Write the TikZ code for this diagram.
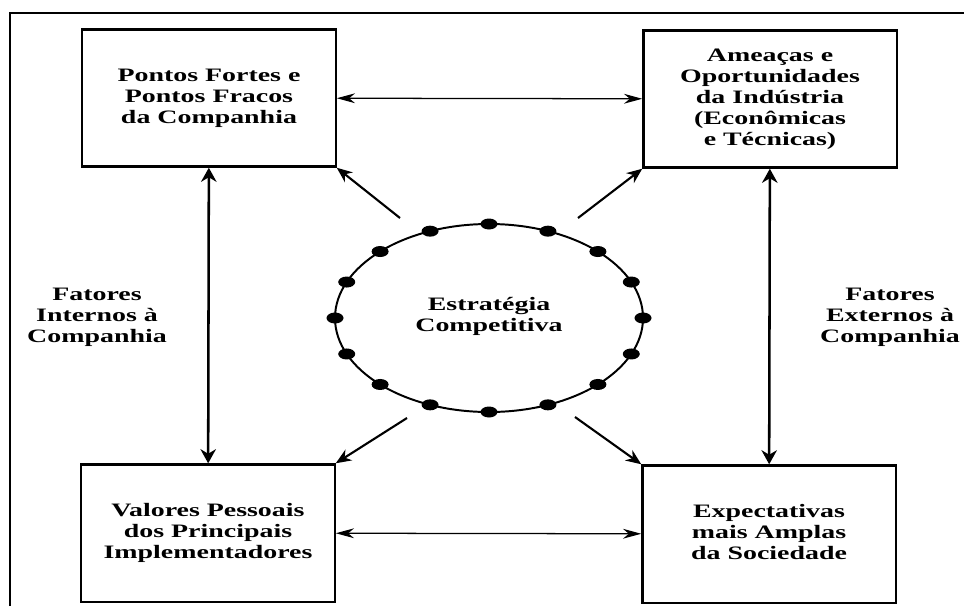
\documentclass[tikz,border=0pt]{standalone}
\usepackage{fontspec}
\setmainfont{Liberation Serif}
\usepackage{graphicx}
\usepackage{tikz}
\usetikzlibrary{arrows.meta}

\newcommand{\largo}[1]{\scalebox{1.47}[1]{\begin{tabular}{@{}c@{}}#1\end{tabular}}}

\begin{document}
\begin{tikzpicture}[x=0.025cm, y=-0.025cm,
  texto/.style={font=\fontsize{13.5}{15}\selectfont\bfseries, inner sep=0pt},
  caixa/.style={texto, draw, line width=1.6pt, minimum width=6.33cm, minimum height=3.43cm},
  seta/.style={-{Stealth[length=11pt, width=9pt]}, line width=1.5pt},
  vertical/.style={{Stealth[length=10pt, width=11pt]}-{Stealth[length=10pt, width=11pt]}, line width=1.8pt},
  horizontal/.style={{Stealth[length=13pt, width=7pt]}-{Stealth[length=13pt, width=7pt]}, line width=0.9pt}]
  \useasboundingbox (0,0) rectangle (964,606);

  % moldura
  \draw[line width=1.2pt] (10,606) -- (10,13) -- (964,13);

  % caixas
  \node[caixa] (forcas) at (209,98) {\largo{Pontos Fortes e\\Pontos Fracos\\da Companhia}};
  \node[caixa] (ameacas) at (770,99) {\largo{Ameaças e\\Oportunidades\\da Indústria\\(Econômicas\\e Técnicas)}};
  \node[caixa] (valores) at (208,533) {\largo{Valores Pessoais\\dos Principais\\Implementadores}};
  \node[caixa] (expect) at (769,534) {\largo{Expectativas\\mais Amplas\\da Sociedade}};

  % fatores
  \node[texto] (internos) at (97,317) {\largo{Fatores\\Internos à\\Companhia}};
  \node[texto] (externos) at (890,317) {\largo{Fatores\\Externos à\\Companhia}};

  % estrategia
  \draw[line width=1.4pt] (489,318) ellipse [x radius=154, y radius=94];
  \foreach \a in {0,22.5,...,337.5}
    \fill ({489+154*cos(\a)},{318+94*sin(\a)}) ellipse [x radius=8.5, y radius=5.5];
  \node[texto] (estr) at (489,317) {\largo{Estratégia\\Competitiva}};

  % setas
  \draw[horizontal] (forcas) -- (ameacas);
  \draw[horizontal] (valores) -- (expect);
  \draw[vertical] (forcas) -- (valores);
  \draw[vertical] (ameacas) -- (expect);

  \coordinate (s1) at (400,218);
  \coordinate (s2) at (578,218);
  \coordinate (s3) at (407,418);
  \coordinate (s4) at (575,417);
  \draw[seta] (s1) -- (forcas.south east);
  \draw[seta] (s2) -- (ameacas.south west);
  \draw[seta] (s3) -- (valores.north east);
  \draw[seta] (s4) -- (expect.north west);
\end{tikzpicture}
\end{document}
